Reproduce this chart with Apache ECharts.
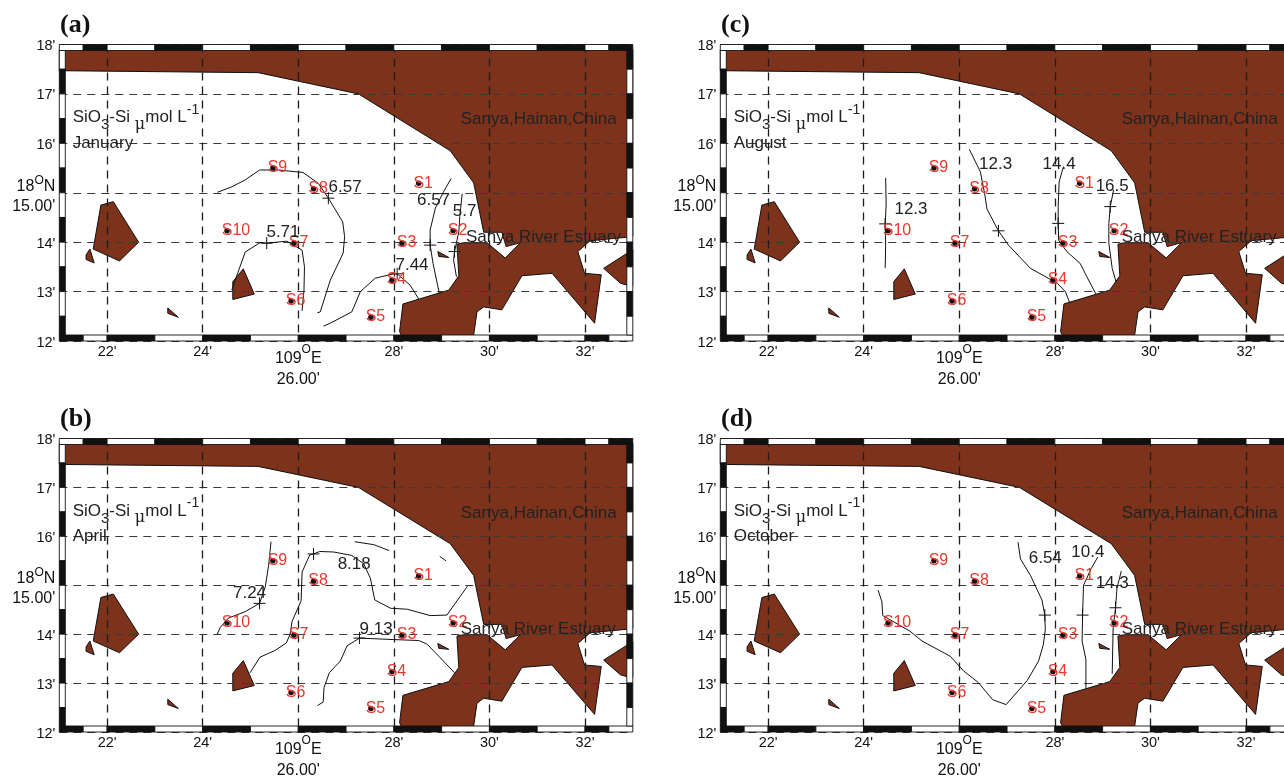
<!DOCTYPE html>
<html><head><meta charset="utf-8"><style>html,body{margin:0;padding:0;background:#fff;overflow:hidden}#w{width:1284px;height:779px;overflow:hidden}#c{width:1300px;height:779px}</style>
<script src="https://cdn.jsdelivr.net/npm/echarts@6/dist/echarts.min.js"></script></head>
<body><div id="w"><div id="c"></div></div>
<script>
// Longitude in minutes past 109 deg E; latitude axis runs 12'..18' with 15' = 18 deg N 15.00'
const lonTicks = [22,24,26,28,30,32];
const latTicks = [12,13,14,15,16,17,18];
const frameLon = [21,21.5,22,23,24,25,26,27,28,29,30,31,32,32.5,33];
const frameLat = [18,17.5,17,16.5,16,15.5,15,14.5,14,13.5,13,12.5,12];
const panelNames = ['(a)','(b)','(c)','(d)'];
const months = ['January','April','August','October'];
const stationNames = ['S1','S2','S3','S4','S5','S6','S7','S8','S9','S10'];
const stationLon = [28.52,29.24,28.17,27.96,27.52,25.85,25.91,26.32,25.47,24.51];
const stationLat = [15.19,14.23,13.98,13.23,12.48,12.81,13.98,15.08,15.50,14.23];

const landMain = [[21,17.9],[21,17.47],[25.16,17.43],[27.26,17.0],[29.18,15.85],[29.67,15.20],[29.88,14.20],[30.26,14.20],[30.35,13.91],[30.65,13.99],[30.33,13.68],[29.95,13.99],[29.46,13.99],[29.32,13.96],[29.36,13.32],[29.15,13.03],[28.19,12.75],[28.12,12.19],[28.19,12.05],[29.66,12.05],[29.74,12.59],[29.88,12.69],[30.26,12.63],[30.68,13.32],[31.31,13.37],[32.2,12.36],[32.34,13.34],[31.99,13.37],[31.85,13.81],[32.11,14.03],[32.88,14.10],[33,14.12],[33,17.9]];
const landEast = [[33,13.85],[32.39,13.47],[32.74,13.17],[32.88,13.13],[33,13.12]];
const islandWest = [[21.87,14.75],[22.13,14.82],[22.66,14.0],[22.26,13.62],[21.71,13.86]];
const isletWest = [[21.64,13.86],[21.73,13.58],[21.56,13.65],[21.56,13.74]];
const islandMid = [[24.85,13.46],[25.08,12.95],[24.63,12.84],[24.63,13.2]];
const isletSouth = [[23.27,12.67],[23.49,12.48],[23.27,12.56]];
const isletEstuary = [[28.92,13.81],[29.15,13.69],[28.94,13.71]];
const landPolys = [landMain,landEast,islandWest,isletWest,islandMid,isletSouth,isletEstuary];

const contoursA = [
 [[24.31,15.01],[24.61,15.12],[24.89,15.26],[25.19,15.46],[25.59,15.46],[26.10,15.41],[26.42,15.19],[26.63,14.89],[26.93,14.41],[26.97,14.11],[26.94,13.78],[26.67,13.23],[26.46,12.59],[26.40,12.57]],
 [[24.61,13.03],[24.68,13.23],[24.89,13.80],[25.20,13.99],[25.34,13.98],[25.76,14.02],[26.08,13.84],[26.13,13.50],[26.12,13.03],[26.08,12.61]],
 [[26.53,12.30],[26.67,12.36],[27.12,12.59],[27.30,13.0],[27.61,13.27],[27.99,13.36],[28.07,13.36],[28.34,13.13],[28.52,12.85]],
 [[29.20,15.29],[29.04,15.02],[28.87,14.69],[28.76,14.25],[28.76,13.94],[28.82,13.57],[28.95,12.97]],
 [[29.43,14.98],[29.38,14.52],[29.36,14.21],[29.27,13.81],[29.25,13.64],[29.31,13.30]]
];
const contoursB = [
 [[25.43,15.89],[25.38,15.41],[25.31,14.97],[25.19,14.63],[24.89,14.46],[24.54,14.33],[24.37,14.14],[24.30,13.99]],
 [[24.99,13.21],[25.20,13.53],[25.52,13.67],[25.75,13.82],[25.83,14.0],[25.87,14.26],[26.06,14.68],[26.08,15.27],[26.24,15.62],[26.32,15.64],[26.45,15.69],[26.74,15.68],[27.12,15.61],[27.37,15.44],[27.51,15.14],[27.60,14.70],[27.93,14.53],[28.28,14.51],[28.76,14.38],[29.11,14.39],[29.54,14.98]],
 [[27.18,15.89],[27.58,15.83],[27.90,15.71]],
 [[28.96,15.59],[29.09,15.50]],
 [[26.40,12.54],[26.52,12.61],[26.54,12.91],[26.65,13.21],[26.88,13.45],[27.02,13.76],[27.28,13.92],[27.99,13.89],[28.52,13.87],[28.69,13.80],[28.94,13.55],[29.27,13.21]]
];
const contoursC = [
 [[24.46,15.30],[24.47,14.75],[24.45,14.37],[24.46,13.94],[24.45,13.48]],
 [[26.21,15.88],[26.44,15.43],[26.53,14.99],[26.58,14.67],[26.82,14.23],[27.03,13.94],[27.49,13.47],[28.05,13.17],[28.22,13.0],[28.31,12.78]],
 [[28.18,15.53],[28.09,15.22],[28.07,14.72],[28.07,14.38],[28.08,14.04],[28.25,13.81],[28.53,13.57],[28.67,13.30],[28.86,12.95]],
 [[29.23,15.06],[29.16,14.72],[29.13,14.38],[29.13,13.98],[29.20,13.47],[29.28,13.20]]
];
const contoursD = [
 [[24.30,14.90],[24.38,14.67],[24.40,14.38],[24.97,14.06],[25.22,13.86],[25.81,13.55],[26.09,13.25],[26.40,13.01],[26.70,12.66],[26.98,12.56],[27.42,13.05],[27.66,13.45],[27.76,13.79],[27.80,14.09],[27.79,14.39],[27.73,14.70],[27.49,15.20],[27.28,15.54],[27.23,15.88]],
 [[28.90,15.58],[28.76,15.34],[28.60,15.0],[28.58,14.39],[28.57,13.86],[28.65,13.48],[28.65,12.89]],
 [[29.39,15.29],[29.30,14.94],[29.27,14.54],[29.22,14.13],[29.20,13.19]]
];
const crossesA = [[26.63,14.89],[25.34,13.98],[28.07,13.36],[28.76,13.94],[29.27,13.81]];
const crossesB = [[25.19,14.63],[26.32,15.64],[27.28,13.92]];
const crossesC = [[24.45,14.37],[26.82,14.23],[28.07,14.38],[29.16,14.72]];
const crossesD = [[27.79,14.39],[28.58,14.39],[29.27,14.54]];
const valueLabelsA = [[26.98,15.14,'6.57'],[25.68,14.23,'5.71'],[28.38,13.57,'7.44'],[28.83,14.87,'6.57'],[29.48,14.65,'5.7']];
const valueLabelsB = [[24.98,14.87,'7.24'],[27.17,15.46,'8.18'],[27.63,14.14,'9.13']];
const valueLabelsC = [[24.99,14.69,'12.3'],[26.76,15.61,'12.3'],[28.09,15.61,'14.4'],[29.20,15.17,'16.5']];
const valueLabelsD = [[27.80,15.58,'6.54'],[28.69,15.70,'10.4'],[29.20,15.07,'14.3']];
const contours = [contoursA,contoursB,contoursC,contoursD];
const crosses = [crossesA,crossesB,crossesC,crossesD];
const valueLabels = [valueLabelsA,valueLabelsB,valueLabelsC,valueLabelsD];
const estuaryLon = [29.52,29.41,29.41,29.41];

const FONT = '"Liberation Sans", Helvetica, Arial, sans-serif';
const INK = '#111', TXT = '#222', AX = '#111', RED = '#e8392f', LAND = '#7c321b';
const panelLeft = [59.3,59.3,720.3,720.3], panelTop = [44.5,438.5,44.5,438.5];
const GW = 573.5, GH = 296.5, BAND = 6;

const frameRows = [];
for (let i=0;i<frameLon.length-1;i++){
  frameRows.push([0,frameLon[i],frameLon[i+1],i%2===1?1:0]);
  frameRows.push([1,frameLon[i],frameLon[i+1],i%2===0?1:0]);
}
for (let i=0;i<frameLat.length-1;i++){
  frameRows.push([2,frameLat[i],frameLat[i+1],i%2===1?1:0]);
  frameRows.push([3,frameLat[i],frameLat[i+1],i%2===0?1:0]);
}
function renderFrame(params, api){
  const side=api.value(0),a=api.value(1),b=api.value(2),k=api.value(3);
  let x,y,w,h;
  const g=params.coordSys;
  if(side<2){
    const p=api.coord([a,12]),q=api.coord([b,12]);
    x=p[0];w=q[0]-p[0];h=BAND;y=side===0?g.y:g.y+g.height-BAND;
  }else{
    const p=api.coord([21,a]),q=api.coord([21,b]);
    y=p[1];h=q[1]-p[1];w=BAND;x=side===2?g.x:g.x+g.width-BAND;
    if(y<g.y+BAND){h-=g.y+BAND-y;y=g.y+BAND;}
    if(y+h>g.y+g.height-BAND){h=g.y+g.height-BAND-y;}
  }
  return {type:'rect',shape:{x,y,width:w,height:h},style:{fill:k?INK:'#fff',stroke:INK,lineWidth:0.9}};
}
function renderLand(params, api){
  const pts=landPolys[api.value(0)].map(p=>api.coord(p));
  return {type:'polygon',shape:{points:pts},style:{fill:LAND,stroke:INK,lineWidth:1,lineJoin:'miter'}};
}

const grid=[],xAxis=[],yAxis=[],series=[],title=[];
const main={fontFamily:FONT,fontSize:17,color:TXT};
const bigT={fontFamily:FONT,fontSize:16,color:AX};
const hidden={color:'rgba(0,0,0,0)',opacity:1};
for(let n=0;n<4;n++){
  grid.push({left:panelLeft[n],top:panelTop[n],width:GW,height:GH,containLabel:false,show:false});
  title.push({text:panelNames[n],left:panelLeft[n]+0.7,top:panelTop[n]-32,padding:0,textStyle:{fontFamily:'"Liberation Serif",serif',fontWeight:'bold',fontSize:26,color:'#111'}});
  xAxis.push({type:'value',gridIndex:n,min:21,max:33,z:2,
    axisLine:{show:false},axisTick:{show:false,customValues:lonTicks},
    splitLine:{show:true,lineStyle:{type:[8,6],color:'#1c1c1c',width:1.3}},
    axisLabel:{customValues:lonTicks,margin:3,fontFamily:FONT,fontSize:14.5,color:AX,hideOverlap:false,
      formatter:v=>v===26?'{big|109}{sup|O}{big|E}\n{big2|26.00\'}':v+"'",
      rich:{big:{...bigT,lineHeight:30},big2:{...bigT,lineHeight:12},
            sup:{...bigT,fontSize:12,lineHeight:20,verticalAlign:'top'}}}});
  yAxis.push({type:'value',gridIndex:n,min:12,max:18,interval:1,z:2,
    axisLine:{show:false},axisTick:{show:false},
    splitLine:{show:true,lineStyle:{type:[8,6],color:'#3a3a3a',width:1.1}},
    axisLabel:{margin:4,padding:[3,0,0,0],fontFamily:FONT,fontSize:14.5,color:AX,hideOverlap:false,showMinLabel:true,showMaxLabel:true,
      formatter:v=>v===15?'{big|18}{sup|O}{big|N}\n{big2|15.00\'}':v+"'",
      rich:{big:{...bigT,lineHeight:24},big2:{...bigT,lineHeight:16},
            sup:{...bigT,fontSize:12,lineHeight:14,verticalAlign:'top'}}}});
  const ax={xAxisIndex:n,yAxisIndex:n,animation:false,silent:true};
  series.push({...ax,type:'custom',z:1,clip:false,renderItem:renderLand,data:landPolys.map((_,i)=>[i])});
  contours[n].forEach(c=>series.push({...ax,type:'line',z:3,showSymbol:false,symbol:'none',lineStyle:{color:INK,width:1},data:c}));
  series.push({...ax,type:'scatter',z:3,symbol:'path://M0 5H10M5 0V10',symbolSize:12,itemStyle:{color:'rgba(0,0,0,0)',opacity:1,borderColor:INK,borderWidth:1},data:crosses[n]});
  series.push({...ax,type:'custom',z:4,clip:false,renderItem:renderFrame,data:frameRows});
  series.push({...ax,type:'scatter',z:5,symbol:'circle',symbolSize:5.5,itemStyle:{color:INK,opacity:1},
    label:{show:true,position:[-2.5,2.5],align:'left',verticalAlign:'middle',fontFamily:FONT,fontSize:16,color:RED,formatter:p=>p.name},
    data:stationNames.map((s,i)=>({name:s,value:[stationLon[i],stationLat[i]]}))});
  series.push({...ax,type:'scatter',z:6,symbol:'circle',symbolSize:1,itemStyle:hidden,
    label:{show:true,position:[0.5,2],align:'center',verticalAlign:'middle',...main,formatter:p=>p.value[2]},
    data:valueLabels[n]});
  series.push({...ax,type:'scatter',z:6,symbol:'circle',symbolSize:1,itemStyle:hidden,
    label:{show:true,position:[0,2],align:'left',verticalAlign:'middle',...main,formatter:p=>p.value[2]},
    data:[[21.29,16.03,months[n]],[29.41,16.51,'Sanya,Hainan,China'],[estuaryLon[n],14.13,'Sanya River Estuary']]});
  series.push({...ax,type:'scatter',z:6,symbol:'circle',symbolSize:1,itemStyle:hidden,
    label:{show:true,position:[0,2],align:'left',verticalAlign:'middle',...main,
      formatter:()=>'{t|SiO}{sub|3}{t|-Si }{mu|\u03bc}{t|mol L}{sup|-1}',
      rich:{t:{...main,lineHeight:30},mu:{...main,fontFamily:'"DejaVu Serif",serif',fontSize:16,lineHeight:26,verticalAlign:'bottom'},
            sub:{...main,fontSize:15,lineHeight:14,verticalAlign:'bottom'},
            sup:{...main,fontSize:14,lineHeight:20,verticalAlign:'top'}}},
    data:[[21.29,16.55]]});
}
const chart=echarts.init(document.getElementById('c'),null,{renderer:'canvas',width:1300,height:779});
chart.setOption({animation:false,backgroundColor:'#fff',tooltip:{show:false},legend:{show:false},title,grid,xAxis,yAxis,series});
</script></body></html>
